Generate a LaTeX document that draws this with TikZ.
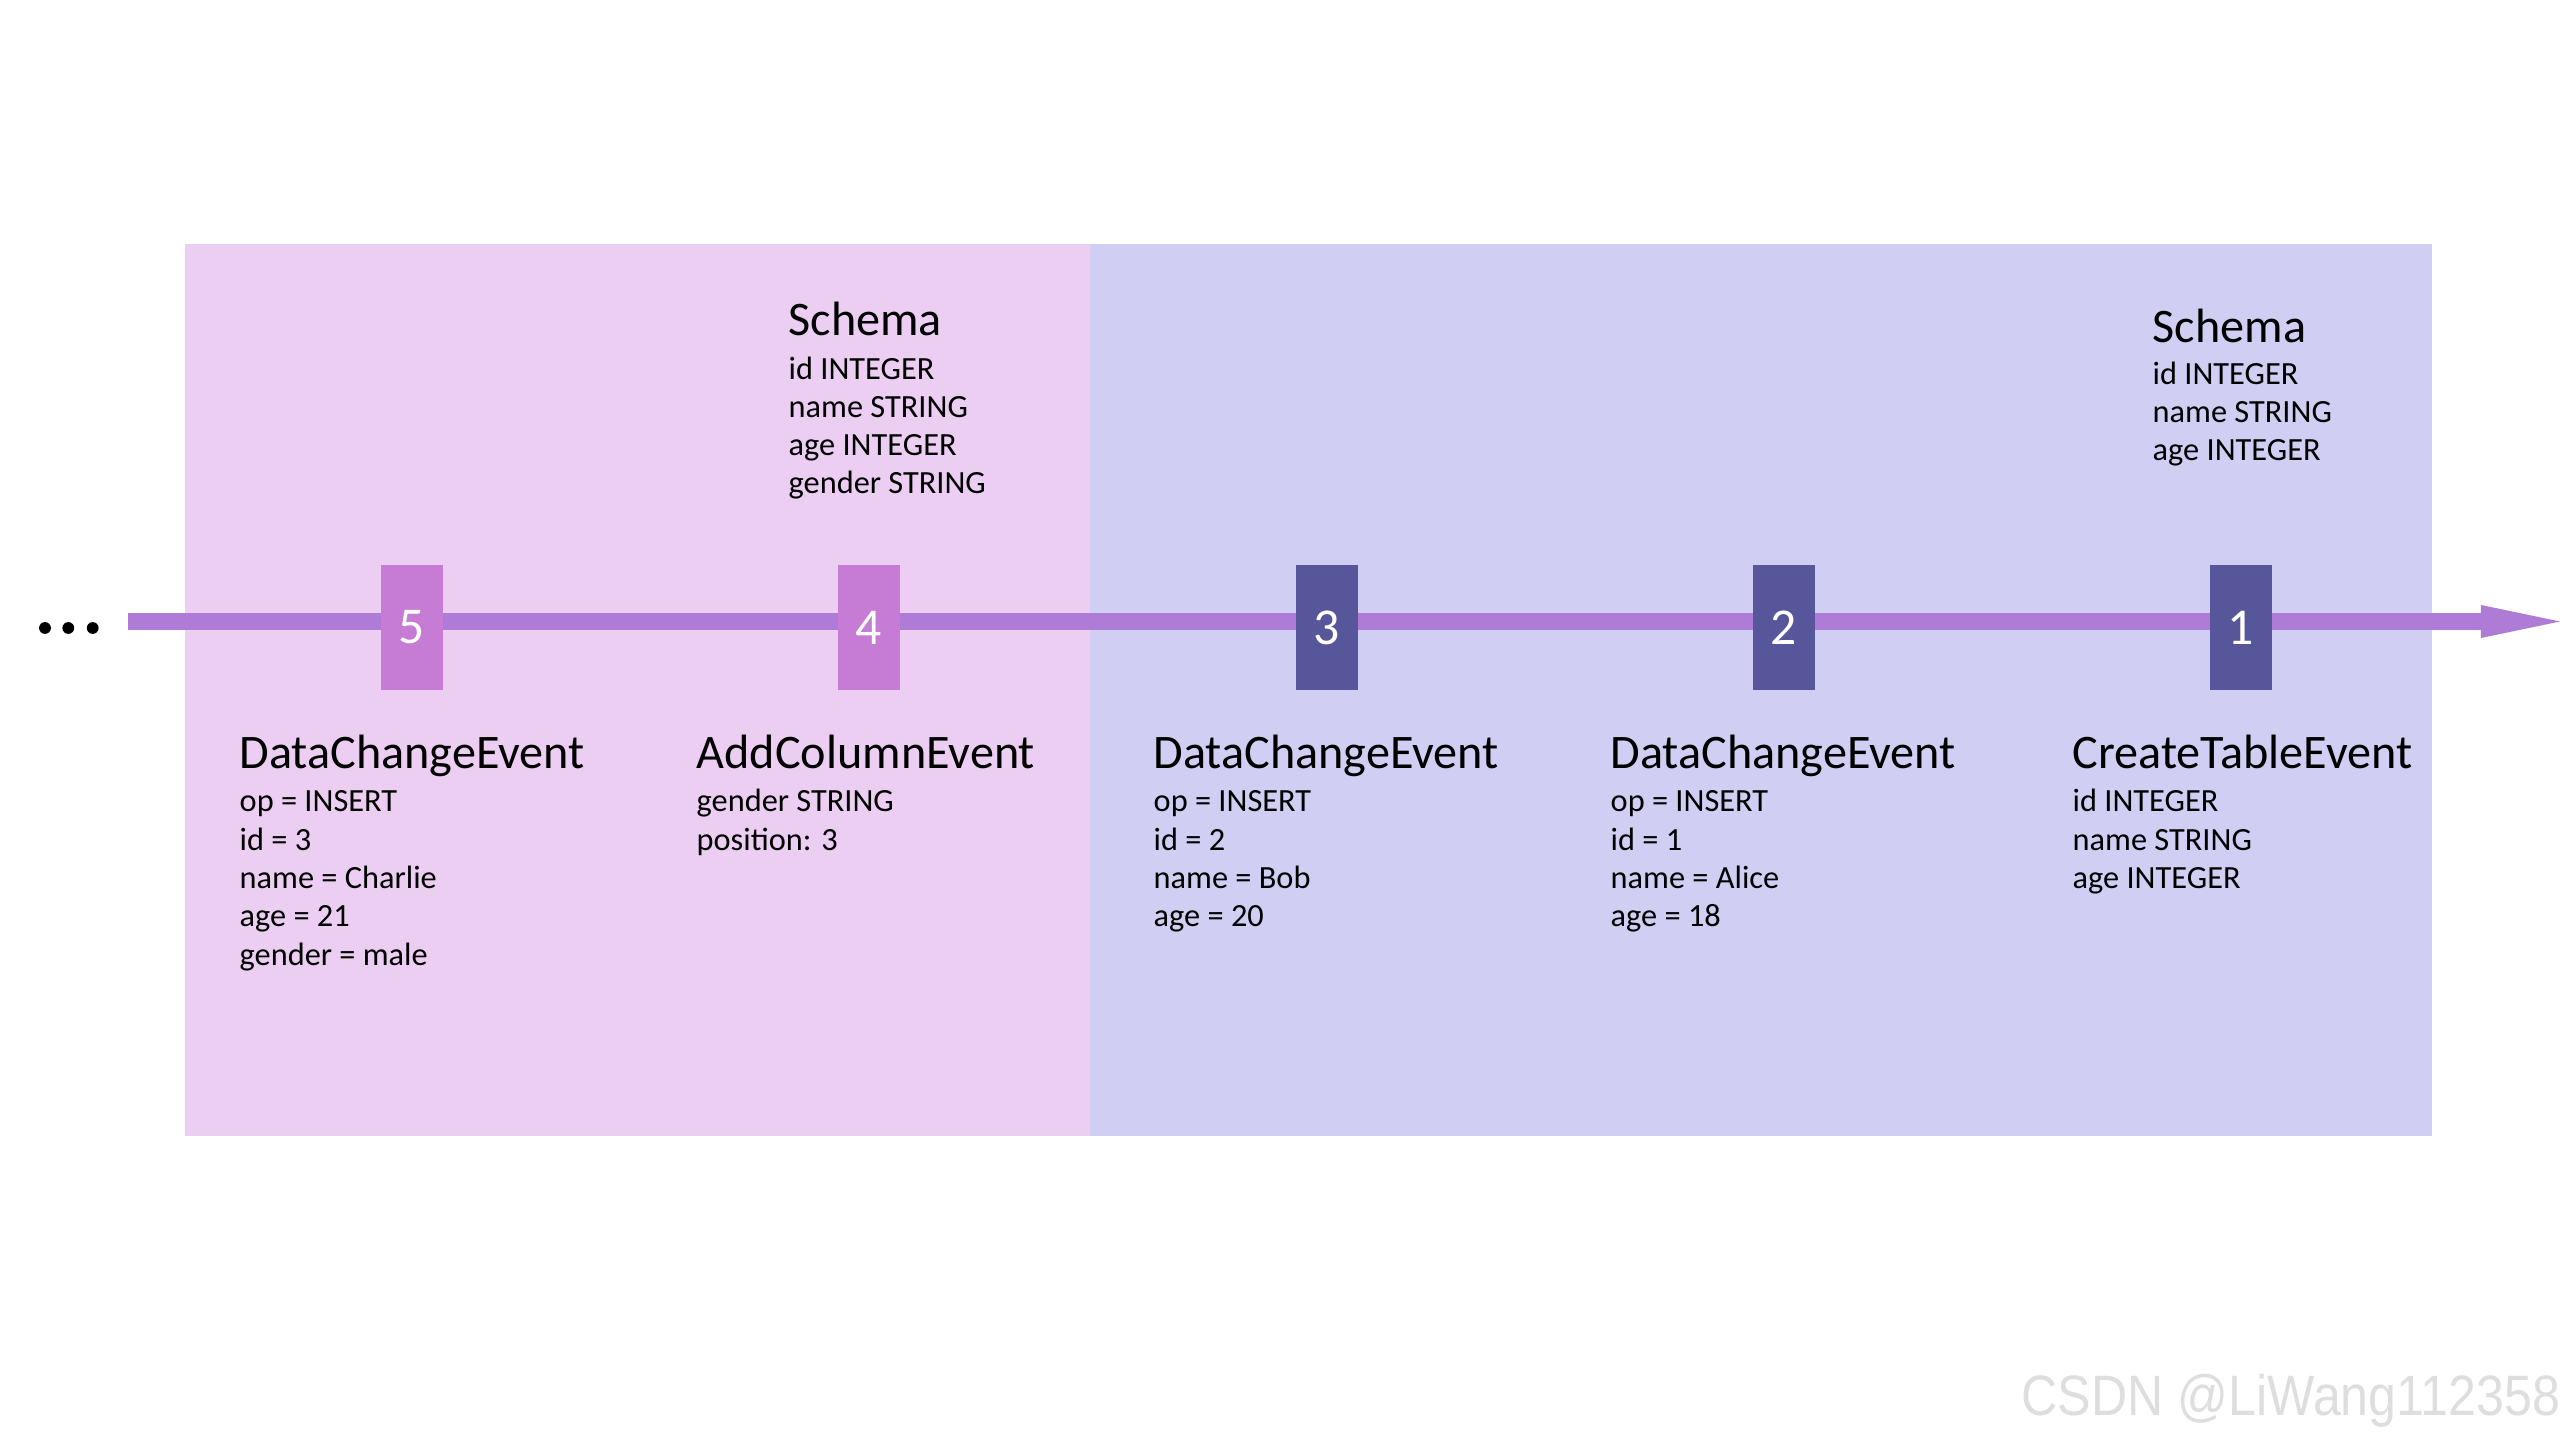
\documentclass[tikz,border=0pt]{standalone}
\usepackage{fontspec}
\setmainfont{Carlito}
\newfontfamily\wmfont{Liberation Sans}
\usepackage{tikz}
\usetikzlibrary{arrows.meta}

\definecolor{pinkbg}{HTML}{EBCEF2}
\definecolor{bluebg}{HTML}{D0CEF2}
\definecolor{pinkbox}{HTML}{C67CD4}
\definecolor{darkbox}{HTML}{58569B}
\definecolor{linecol}{HTML}{AE7CD6}

\begin{document}
\begin{tikzpicture}[x=0.01cm,y=-0.01cm,
		evbox/.style={rectangle, minimum width=0.62cm, minimum height=1.25cm, inner sep=0pt, text=white, font=\fontsize{14.7}{17}\selectfont},
		evtitle/.style={anchor=base west, inner sep=0pt, font=\fontsize{13.7}{16}\selectfont},
		evbody/.style={anchor=base west, inner sep=0pt, align=left, font=\fontsize{9.2}{10.9}\selectfont}]
		\useasboundingbox (0,0) rectangle (2560,1440);
		% Sfondi
		\fill [pinkbg] (185,244) rectangle (1090,1136);
		\fill [bluebg] (1090,244) rectangle (2432,1136);
		
		% Linea del tempo
		\foreach \x in {45,68.3,92.7}
			\fill (\x,628) circle (0.059cm);
		\coordinate (tlstart) at (128,621.5);
		\coordinate (tlend) at (2560,621.5);
		\draw [line width=0.17cm, linecol, -{Triangle[length=0.79cm, width=0.33cm, line width=0pt]}] (tlstart) -- (tlend);
		
		% Eventi
		\node [evbox, fill=pinkbox] (b5) at (412,627.5) {5};
		\node [evbox, fill=pinkbox] (b4) at (869,627.5) {4};
		\node [evbox, fill=darkbox] (b3) at (1327,627.5) {3};
		\node [evbox, fill=darkbox] (b2) at (1784,627.5) {2};
		\node [evbox, fill=darkbox] (b1) at (2241,627.5) {1};
		
		% (base = ultima riga)
		\node [evtitle] (e5) at (239,768) {DataChangeEvent};
		\node [evbody] (e5f) at (239,965.2) {op = INSERT\\id = 3\\name = Charlie\\age = 21\\gender = male};
		\node [evtitle] (e4) at (696,768) {AddColumnEvent};
		\node [evbody] (e4f) at (696,850.3) {gender STRING\\position: 3};
		\node [evtitle] (e3) at (1153,768) {DataChangeEvent};
		\node [evbody] (e3f) at (1153,926.9) {op = INSERT\\id = 2\\name = Bob\\age = 20};
		\node [evtitle] (e2) at (1610,768) {DataChangeEvent};
		\node [evbody] (e2f) at (1610,926.9) {op = INSERT\\id = 1\\name = Alice\\age = 18};
		\node [evtitle] (e1) at (2072,768) {CreateTableEvent};
		\node [evbody] (e1f) at (2072,888.6) {id INTEGER\\name STRING\\age INTEGER};
		
		% Schema
		\node [evtitle] (s4) at (788,336) {Schema};
		\node [evbody] (s4f) at (788,494) {id INTEGER\\name STRING\\age INTEGER\\gender STRING};
		\node [evtitle] (s1) at (2152,343) {Schema};
		\node [evbody] (s1f) at (2152,461) {id INTEGER\\name STRING\\age INTEGER};
		
		\node [anchor=west, inner sep=0pt, text=black!13, font=\wmfont\fontsize{16.2}{19}\selectfont] (wm) at (2021,1401) {\scalebox{0.88}[1]{CSDN @LiWang112358}};
	\end{tikzpicture}
\end{document}
